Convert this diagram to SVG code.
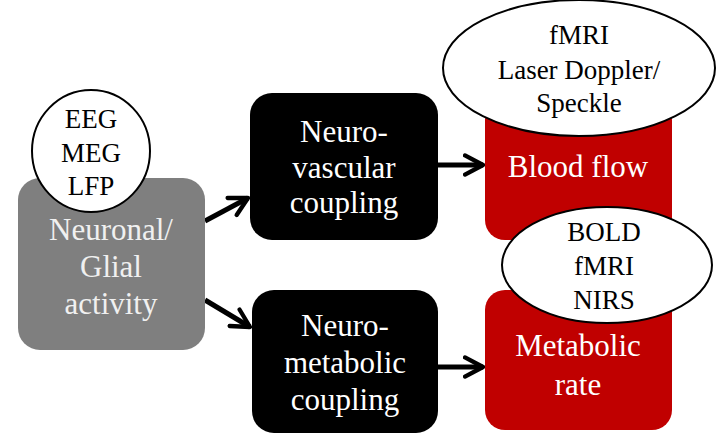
<svg xmlns="http://www.w3.org/2000/svg" width="717" height="441" viewBox="0 0 717 441">
<defs>
<style>
text{font-family:'Liberation Serif','DejaVu Serif','Times New Roman',Times,serif;text-anchor:middle}
.w{fill:#ffffff;font-size:31px}
.g{fill:#f0f0f0;font-size:31px}
.k{fill:#000;font-size:27px}
.ell{fill:#fff;stroke:#000;stroke-width:2}
.conn{stroke:#000;stroke-width:5;fill:none;marker-end:url(#ah)}
</style>
<marker id="ah" viewBox="0 0 10 10" refX="8.5" refY="5" markerWidth="4.8" markerHeight="4.8" orient="auto" markerUnits="strokeWidth">
<path d="M1,1 L8.5,5 L1,9" fill="none" stroke="#000" stroke-width="1.8" stroke-linecap="round" stroke-linejoin="round"/>
</marker>
</defs>
<rect width="717" height="441" fill="#fff"/>
<g id="connectors">
<line class="conn" x1="205" y1="221" x2="248" y2="198"/>
<line class="conn" x1="205" y1="300" x2="250" y2="327"/>
<line class="conn" x1="438" y1="165" x2="483" y2="165"/>
<line class="conn" x1="438" y1="367" x2="483" y2="367"/>
</g>
<g font-family="Liberation Serif, DejaVu Serif, serif">
<g id="neuronal">
<rect x="18" y="178" width="187" height="172" rx="22" fill="#7f7f7f"/>
<text class="g" x="111" y="240">Neuronal/</text>
<text class="g" x="111" y="277">Glial</text>
<text class="g" x="111" y="314">activity</text>
</g>
<g id="eeg">
<ellipse class="ell" cx="91" cy="151" rx="59" ry="61"/>
<text class="k" x="91" y="128">EEG</text>
<text class="k" x="91" y="162">MEG</text>
<text class="k" x="91" y="195">LFP</text>
</g>
<g id="neurovascular">
<rect x="250" y="93" width="188" height="147" rx="22" fill="#000"/>
<text class="w" x="344" y="142">Neuro-</text>
<text class="w" x="344" y="178">vascular</text>
<text class="w" x="344" y="213">coupling</text>
</g>
<g id="neurometabolic">
<rect x="252" y="290" width="186" height="143" rx="22" fill="#000"/>
<text class="w" x="345" y="336">Neuro-</text>
<text class="w" x="345" y="373">metabolic</text>
<text class="w" x="345" y="410">coupling</text>
</g>
<g id="bloodflow">
<rect x="485" y="100" width="187" height="140" rx="20" fill="#c00000"/>
<text class="w" x="578" y="177">Blood flow</text>
</g>
<g id="metabolicrate">
<rect x="485" y="290" width="187" height="140" rx="20" fill="#c00000"/>
<text class="w" x="578" y="356">Metabolic</text>
<text class="w" x="578" y="395">rate</text>
</g>
<g id="fmri-top">
<ellipse class="ell" cx="579" cy="68" rx="136" ry="68"/>
<text class="k" x="579" y="44">fMRI</text>
<text class="k" x="579" y="79">Laser Doppler/</text>
<text class="k" x="579" y="112">Speckle</text>
</g>
<g id="bold">
<ellipse class="ell" cx="607" cy="265" rx="105" ry="58"/>
<text class="k" x="604" y="241">BOLD</text>
<text class="k" x="604" y="275">fMRI</text>
<text class="k" x="604" y="309">NIRS</text>
</g>
</g>
</svg>
